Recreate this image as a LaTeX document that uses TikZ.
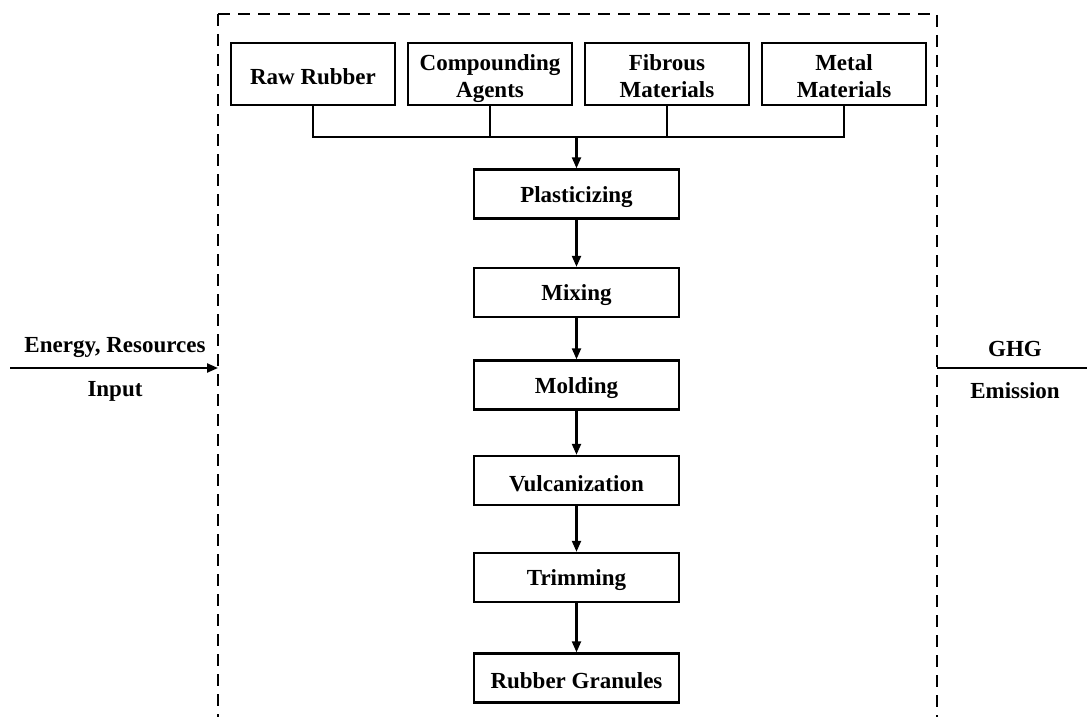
\documentclass[tikz,border=0pt]{standalone}
\usepackage{fontspec}
\setmainfont{Liberation Serif}
\usetikzlibrary{arrows.meta}
% lower the printed text slightly without changing the box the node centres
\newcommand{\lowered}[1]{\raisebox{-3pt}[\height][\depth]{#1}}
\newcommand{\twolines}[2]{\raisebox{-5pt}[\height][\depth]{\begin{tabular}{@{}c@{}}#1\\#2\end{tabular}}}
\begin{document}
\begin{tikzpicture}[x=1pt,y=-1pt,
  every node/.style={font=\fontsize{23}{27}\selectfont\bfseries},
  inbox/.style={draw,line width=2.4pt,minimum width=164pt,minimum height=62pt,inner sep=0pt,align=center},
  procbox/.style={draw,line width=2.4pt,minimum width=205pt,minimum height=49pt,inner sep=0pt,align=center},
  link/.style={line width=2.2pt},
  flow/.style={line width=2.2pt,-{Triangle[length=11pt,width=9pt]}},
  boundary/.style={line width=2.4pt,dash pattern=on 12pt off 8pt},
  lbl/.style={inner sep=0pt}]
\useasboundingbox (0,0) rectangle (1087,717);

% system boundary (open at the bottom)
\coordinate (tl) at (218,14);
\coordinate (tr) at (937,14);
\coordinate (bl) at (218,740);
\coordinate (br) at (937,740);
\draw[boundary] (tl) -- (tr) -- (br);
\draw[boundary] (tl) -- (bl);

% raw material inputs
\node[inbox] (raw)  at (313,74) {\lowered{Raw Rubber}};
\node[inbox] (comp) at (490,74) {\twolines{Compounding}{Agents}};
\node[inbox] (fib)  at (667,74) {\twolines{Fibrous}{Materials}};
\node[inbox] (met)  at (844,74) {\twolines{Metal}{Materials}};

% process chain
\node[procbox] (plast) at (576.5,194)   {\lowered{Plasticizing}};
\node[procbox] (mix)   at (576.5,292.5) {\lowered{Mixing}};
\node[procbox] (mold)  at (576.5,385)   {\lowered{Molding}};
\node[procbox] (vulc)  at (576.5,480.5) {\lowered{Vulcanization}};
\node[procbox] (trim)  at (576.5,577.5) {\lowered{Trimming}};
\node[procbox] (gran)  at (576.5,678)   {\lowered{Rubber Granules}};

% collector bar
\coordinate (bus) at (576.5,137);
\draw[link] (raw.south) |- (met.south |- bus) -- (met.south);
\draw[link] (comp.south) -- (comp.south |- bus);
\draw[link] (fib.south) -- (fib.south |- bus);
\draw[flow] (bus) -- (plast.north);

\draw[flow] (plast) -- (mix);
\draw[flow] (mix) -- (mold);
\draw[flow] (mold) -- (vulc);
\draw[flow] (vulc) -- (trim);
\draw[flow] (trim) -- (gran);

% inputs and outputs across the boundary
\coordinate (inL) at (10,368);
\coordinate (inR) at (218,368);
\coordinate (outL) at (937,368);
\coordinate (outR) at (1087,368);
\draw[flow] (inL) -- (inR);
\draw[link] (outL) -- (outR);
\node[lbl] (ein) at (115,348) {Energy, Resources};
\node[lbl] (inp) at (115,391) {Input};
\node[lbl] (ghg) at (1015,349) {GHG};
\node[lbl] (emi) at (1015,391) {Emission};
\end{tikzpicture}
\end{document}
